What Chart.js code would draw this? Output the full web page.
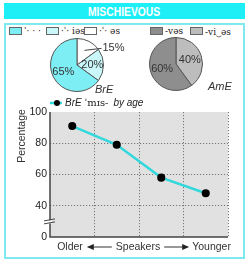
<!DOCTYPE html>
<html><head><meta charset="utf-8">
<script src="https://cdn.jsdelivr.net/npm/chart.js@4"></script>
<style>
html,body{margin:0;padding:0;background:#fff;width:249px;height:263px;overflow:hidden;position:relative;font-family:"Liberation Sans",Arial,sans-serif}
#title{position:absolute;left:4px;top:3px;width:241px;height:16px;background:#1eeef6;color:#fff;text-align:center;line-height:16px}
#title span{display:inline-block;font:bold 12px "Liberation Sans",Arial,sans-serif;transform:scaleX(0.86);transform-origin:center}
#box{position:absolute;left:4px;top:23px;width:237px;height:232px;border:2px solid #7ee9ef}
.leg{position:absolute;top:25px;height:12px;font:9px "DejaVu Serif","Liberation Serif",serif;color:#222;white-space:nowrap;display:flex;align-items:center}
.sw{display:inline-block;width:11px;height:6px;border:1px solid #666;margin-right:2px}
canvas{position:absolute}
</style></head>
<body>
<div id="title"><span>MISCHIEVOUS</span></div>
<div id="box"></div>
<div id="legends"></div>
<canvas id="brPie" style="left:5px;top:35px;width:122px;height:60px" width="122" height="60"></canvas>
<canvas id="amPie" style="left:128px;top:34px;width:117px;height:60px" width="117" height="60"></canvas>
<canvas id="line" style="left:0px;top:96px;width:249px;height:162px" width="249" height="162"></canvas>
<script>
// ---- data ----
const brVariants = ['ˈ· · ·', '·ˈ· iəs', '·ˈ· əs'];
const brPercent  = [65, 20, 15];
const brColors   = ['#7eeef5', '#c9f7fa', '#ffffff'];
const amVariants = ['-vəs', '-vi‿əs'];
const amPercent  = [60, 40];
const amColors   = ['#8e8e8e', '#bdbdbd'];
const ageGroups  = ['Older', 'Older-middle', 'Younger-middle', 'Younger'];
const misByAge   = [91, 79, 58, 48];
const yTickValues = [20, 40, 60, 80, 100];
const yTickLabels = ['0', '40', '60', '80', '100'];

// ---- HTML legends for pies ----
const legX = {br: [[9,23],[46,60],[84,98]], am: [[150,164],[190,204]]};
const lg = document.getElementById('legends');
function addLeg(list, colors, pos){
  list.forEach((t,i)=>{
    const d=document.createElement('div'); d.className='leg'; d.style.left=pos[i][0]+'px';
    d.innerHTML='<span class="sw" style="background:'+colors[i]+'"></span><span>'+t+'</span>';
    lg.appendChild(d);
  });
}
addLeg(brVariants, brColors, legX.br);
addLeg(amVariants, amColors, legX.am);

// ---- pie label plugin ----
const pieLabels = {
  id:'pieLabels',
  afterDatasetsDraw(chart, args, o){
    const ctx=chart.ctx, meta=chart.getDatasetMeta(0), data=chart.data.datasets[0].data;
    ctx.save();
    ctx.fillStyle='#333'; ctx.strokeStyle='#444'; ctx.lineWidth=1;
    let cx=0, cy=0, R=0;
    meta.data.forEach((arc,i)=>{
      const p=arc.getProps(['x','y','startAngle','endAngle','outerRadius'],true);
      cx=p.x; cy=p.y; R=p.outerRadius;
      const mid=(p.startAngle+p.endAngle)/2;
      ctx.font='11px "Liberation Sans", Arial, sans-serif';
      if(o.outside===i){
        const x1=p.x+Math.cos(mid)*R*0.62, y1=p.y+Math.sin(mid)*R*0.62;
        const x2=p.x+R-2, y2=y1-2;
        ctx.beginPath(); ctx.moveTo(x1,y1); ctx.lineTo(x2,y2); ctx.stroke();
        ctx.textAlign='left'; ctx.textBaseline='middle';
        ctx.fillText(data[i]+'%', x2+1, y2);
      } else {
        const r=R*o.frac;
        ctx.textAlign='center'; ctx.textBaseline='middle';
        ctx.fillText(data[i]+'%', p.x+Math.cos(mid)*r, p.y+Math.sin(mid)*r);
      }
    });
    ctx.font='italic 11px "Liberation Sans", Arial, sans-serif';
    ctx.textAlign='left'; ctx.textBaseline='middle';
    ctx.fillText(o.name, cx+o.nameDx, cy+o.nameDy);
    ctx.restore();
  }
};

function pie(id, labels, values, colors, pad, opts){
  return new Chart(document.getElementById(id), {
    type:'pie',
    data:{labels:labels.slice().reverse(), datasets:[{data:values.slice().reverse(), backgroundColor:colors.slice().reverse(), borderColor:'#555', borderWidth:1}]},
    options:{responsive:false, animation:false, events:[], layout:{padding:pad},
      plugins:{legend:{display:false}, tooltip:{enabled:false}, pieLabels:opts}},
    plugins:[pieLabels]
  });
}
pie('brPie', brVariants, brPercent, brColors, {left:35,right:13,top:3,bottom:3}, {frac:0.58, outside:0, name:'BrE', nameDx:18, nameDy:25});
pie('amPie', amVariants, amPercent, amColors, {left:10,right:31,top:3,bottom:3}, {frac:0.55, outside:-1, name:'AmE', nameDx:32, nameDy:23});

// ---- line chart ----
const lineDeco = {
  id:'lineDeco',
  beforeDraw(chart){
    const {ctx, chartArea:a}=chart;
    ctx.save(); ctx.fillStyle='#e1e1e1'; ctx.fillRect(a.left,a.top,a.right-a.left,a.bottom-a.top); ctx.restore();
  },
  afterDraw(chart){
    const {ctx, chartArea:a, scales}=chart;
    ctx.save();
    // solid axes
    ctx.setLineDash([]); ctx.strokeStyle='#444'; ctx.lineWidth=1.5;
    ctx.beginPath(); ctx.moveTo(a.left,a.top); ctx.lineTo(a.left,a.bottom); ctx.lineTo(a.right,a.bottom); ctx.stroke();
    // axis break
    const yb=scales.y.getPixelForValue(30);
    ctx.fillStyle='#fff'; ctx.fillRect(a.left-2, yb-1, 4, 3);
    ctx.strokeStyle='#444'; ctx.lineWidth=1;
    ctx.beginPath(); ctx.moveTo(a.left-6,yb-0.5); ctx.lineTo(a.left+5,yb-2.5); ctx.stroke();
    ctx.beginPath(); ctx.moveTo(a.left-6,yb+2.5); ctx.lineTo(a.left+5,yb+0.5); ctx.stroke();
    // legend
    const ly=a.top-9;
    ctx.strokeStyle='#33d8dc'; ctx.lineWidth=2.5;
    ctx.beginPath(); ctx.moveTo(a.left,ly); ctx.lineTo(a.left+12,ly); ctx.stroke();
    ctx.fillStyle='#000'; ctx.beginPath(); ctx.arc(a.left+7,ly,3,0,Math.PI*2); ctx.fill();
    ctx.fillStyle='#222'; ctx.textBaseline='middle'; ctx.textAlign='left';
    let x=a.left+15;
    ctx.font='italic 10px "Liberation Sans", Arial, sans-serif'; ctx.fillText('BrE',x,ly); x+=ctx.measureText('BrE ').width;
    ctx.font='10px "DejaVu Serif", serif'; ctx.fillText('ˈmɪs-',x,ly); x+=ctx.measureText('ˈmɪs-').width+5;
    ctx.font='italic 10px "Liberation Sans", Arial, sans-serif'; ctx.fillText('by age',x,ly);
    // y title
    ctx.save(); ctx.translate(22,a.top+24); ctx.rotate(-Math.PI/2);
    ctx.font='10.5px "Liberation Sans", Arial, sans-serif'; ctx.fillStyle='#333'; ctx.textAlign='center'; ctx.textBaseline='middle';
    ctx.fillText('Percentage',0,0); ctx.restore();
    // x title
    const tx=(a.left+a.right)/2-1, ty=a.bottom+10;
    ctx.font='10.5px "Liberation Sans", Arial, sans-serif'; ctx.fillStyle='#333'; ctx.textAlign='center';
    ctx.fillText('Speakers',tx,ty);
    const sw=ctx.measureText('Speakers').width/2;
    ctx.textAlign='right'; ctx.fillText('Older',tx-sw-33,ty);
    ctx.textAlign='left'; ctx.fillText('Younger',tx+sw+32,ty);
    ctx.strokeStyle='#333'; ctx.lineWidth=1;
    ctx.beginPath(); ctx.moveTo(tx-sw-4,ty); ctx.lineTo(tx-sw-24,ty); ctx.stroke();
    ctx.beginPath(); ctx.moveTo(tx+sw+4,ty); ctx.lineTo(tx+sw+24,ty); ctx.stroke();
    ctx.fillStyle='#222';
    ctx.beginPath(); ctx.moveTo(tx-sw-29,ty); ctx.lineTo(tx-sw-22,ty-3); ctx.lineTo(tx-sw-22,ty+3); ctx.fill();
    ctx.beginPath(); ctx.moveTo(tx+sw+29,ty); ctx.lineTo(tx+sw+22,ty-3); ctx.lineTo(tx+sw+22,ty+3); ctx.fill();
    ctx.restore();
  }
};

new Chart(document.getElementById('line'), {
  type:'line',
  data:{labels:ageGroups, datasets:[{data:misByAge, borderColor:'#33d8dc', borderWidth:2.5, pointBackgroundColor:'#000', pointBorderColor:'#000', pointRadius:2.8, tension:0}]},
  options:{responsive:false, animation:false, events:[],
    layout:{padding:{top:16,right:21,left:0,bottom:0}},
    plugins:{legend:{display:false}, tooltip:{enabled:false}},
    scales:{
      x:{offset:true, afterFit(s){s.height=21;},
        grid:{offset:true, drawTicks:false, lineWidth:1, color:c=>(c.index===0||c.index===4)?'rgba(0,0,0,0)':'#777'},
        border:{display:false, dash:[1.2,1.8]},
        ticks:{display:false}},
      y:{min:20, max:100, afterFit(s){s.width=50;},
        afterBuildTicks(s){s.ticks=yTickValues.map(v=>({value:v}));},
        grid:{drawTicks:false, color:c=>(c.tick&&(c.tick.value===20||c.tick.value===100))?'rgba(0,0,0,0)':'#777'},
        border:{display:false, dash:[1.2,1.8]},
        ticks:{padding:3, color:'#222', font:{family:'"Liberation Sans", Arial, sans-serif', size:10.5},
          callback:(v)=>yTickLabels[yTickValues.indexOf(v)]}}
    }
  },
  plugins:[lineDeco]
});
</script>
</body></html>
